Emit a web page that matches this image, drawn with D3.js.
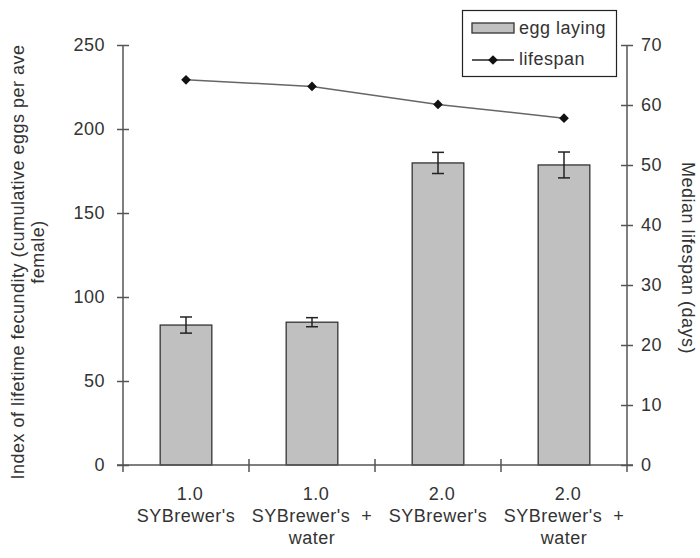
<!DOCTYPE html>
<html><head><meta charset="utf-8">
<script src="https://cdn.jsdelivr.net/npm/d3@7"></script>
<style>body{margin:0;background:#fff}svg text{font-family:"Liberation Sans",Arial,sans-serif;fill:#333;letter-spacing:0.5px}</style>
</head><body><svg id="c" width="700" height="558"></svg>
<script>
const categories = [["1.0","SYBrewer's"],["1.0","SYBrewer's\u00a0 +","water"],["2.0","SYBrewer's"],["2.0","SYBrewer's\u00a0 +","water"]];
const eggLaying = [83.3, 85, 179.8, 178.6];
const eggError = [4.8, 2.7, 6.3, 7.7];
const lifespan = [64.2, 63.1, 60.1, 57.8];
const leftTicks = [0,50,100,150,200,250];
const rightTicks = [0,10,20,30,40,50,60,70];

const svg = d3.select("#c");
const L = 123, R = 627, T = 45, B = 465;
const x = d3.scaleBand().domain(d3.range(categories.length)).range([L, R]).paddingInner(0.59).paddingOuter(0.295);
const xc = d3.scaleBand().domain(d3.range(categories.length)).range([L, R]);
const yL = d3.scaleLinear().domain([0,250]).range([B, T]);
const yR = d3.scaleLinear().domain([0,70]).range([B, T]);
const axisColor = "#555";
const fs = "18px";

// bars
svg.append("g").selectAll("rect").data(eggLaying).join("rect")
  .attr("x",(d,i)=>x(i)).attr("width",x.bandwidth())
  .attr("y",d=>yL(d)).attr("height",d=>B-yL(d))
  .attr("fill","#c0c0c0").attr("stroke","#333").attr("stroke-width",1.3);

// error bars
const eg = svg.append("g").attr("stroke","#222").attr("stroke-width",1.5);
eggLaying.forEach((d,i)=>{
  const cx = xc(i)+xc.bandwidth()/2;
  eg.append("line").attr("x1",cx).attr("x2",cx).attr("y1",yL(d+eggError[i])).attr("y2",yL(d-eggError[i]));
  [d+eggError[i], d-eggError[i]].forEach(v=>eg.append("line").attr("x1",cx-6).attr("x2",cx+6).attr("y1",yL(v)).attr("y2",yL(v)));
});

// left axis
const gl = svg.append("g").attr("transform",`translate(${L},0)`).call(d3.axisLeft(yL).tickValues(leftTicks).tickSize(6).tickPadding(12));
gl.select(".domain").attr("d",`M0,${T}V${B+7}`).attr("stroke",axisColor).attr("stroke-width",1.5);
gl.selectAll(".tick line").attr("x1",6).attr("x2",-6).attr("stroke",axisColor).attr("stroke-width",1.5);
gl.selectAll(".tick text").attr("font-size",fs).attr("fill","#333").attr("font-family","Liberation Sans, Arial, sans-serif");

// right axis
const gr = svg.append("g").attr("transform",`translate(${R},0)`).call(d3.axisRight(yR).tickValues(rightTicks).tickSize(6).tickPadding(8));
gr.select(".domain").attr("d",`M0,${T}V${B+7}`).attr("stroke",axisColor).attr("stroke-width",1.5);
gr.selectAll(".tick line").attr("x1",-6).attr("x2",6).attr("stroke",axisColor).attr("stroke-width",1.5);
gr.selectAll(".tick text").attr("font-size",fs).attr("fill","#333").attr("font-family","Liberation Sans, Arial, sans-serif");

// x axis
svg.append("line").attr("x1",L-6).attr("x2",R+6).attr("y1",B).attr("y2",B).attr("stroke",axisColor).attr("stroke-width",1.5);
d3.range(1,categories.length).forEach(i=>{
  svg.append("line").attr("x1",xc(i)).attr("x2",xc(i)).attr("y1",B-6).attr("y2",B+7).attr("stroke",axisColor).attr("stroke-width",1.5);
});
categories.forEach((lines,i)=>{
  const cx = xc(i)+xc.bandwidth()/2;
  const t = svg.append("text").attr("text-anchor","middle").attr("font-size",fs);
  lines.forEach((s,j)=>t.append("tspan").attr("x",cx + (j===0?4:0)).attr("y",500+j*22).text(s));
});

// lifespan line
const line = d3.line().x((d,i)=>xc(i)+xc.bandwidth()/2).y(d=>yR(d));
svg.append("path").datum(lifespan).attr("d",line).attr("fill","none").attr("stroke","#666").attr("stroke-width",1.5);
svg.append("g").selectAll("path").data(lifespan).join("path")
  .attr("d",d3.symbol(d3.symbolDiamond2 || d3.symbolDiamond, 60))
  .attr("transform",(d,i)=>`translate(${xc(i)+xc.bandwidth()/2},${yR(d)})`).attr("fill","#111");

// axis titles
svg.append("text").attr("transform","translate(24,262) rotate(-90)").attr("text-anchor","middle").attr("font-size",fs)
  .text("Index of lifetime fecundity (cumulative eggs per ave");
svg.append("text").attr("transform","translate(44,252) rotate(-90)").attr("text-anchor","middle").attr("font-size",fs)
  .text("female)");
svg.append("text").attr("transform","translate(682,258) rotate(90)").attr("text-anchor","middle").attr("font-size",fs)
  .text("Median lifespan (days)");

// legend
const lg = svg.append("g");
lg.append("rect").attr("x",462.5).attr("y",10.5).attr("width",154).attr("height",66).attr("fill","#fff").attr("stroke","#222").attr("stroke-width",1.2);
lg.append("rect").attr("x",472).attr("y",23).attr("width",42).attr("height",10).attr("fill","#c0c0c0").attr("stroke","#333").attr("stroke-width",1.3);
lg.append("text").attr("x",519).attr("y",34).attr("font-size",fs).text("egg laying");
lg.append("line").attr("x1",472).attr("x2",514).attr("y1",60).attr("y2",60).attr("stroke","#222").attr("stroke-width",1.3);
lg.append("path").attr("d",d3.symbol(d3.symbolDiamond2 || d3.symbolDiamond,60)).attr("transform","translate(493,60)").attr("fill","#111");
lg.append("text").attr("x",519).attr("y",65).attr("font-size",fs).text("lifespan");
</script></body></html>
